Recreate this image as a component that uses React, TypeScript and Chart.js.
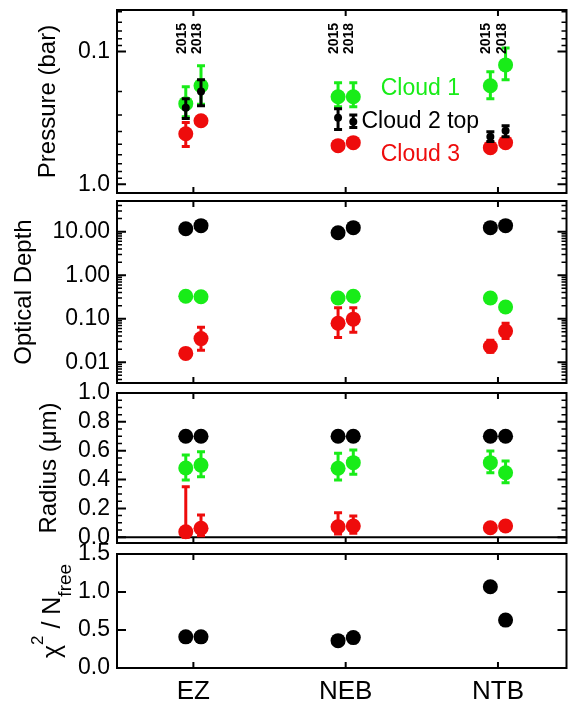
import React, { useEffect, useRef } from 'react';
import { Chart, registerables } from 'chart.js';

Chart.register(...registerables);

const FONT = "'Liberation Sans', Arial, Helvetica, sans-serif";
const W = 574;
const H = 706;

const categories = ['EZ', 'NEB', 'NTB'];
const years = ['2015', '2018'];
const yearOffsets = [-0.05, 0.05];

const cloudLabels = ['Cloud 1', 'Cloud 2 top', 'Cloud 3'];
const GREEN = 'rgb(24,236,24)';
const RED = 'rgb(238,12,12)';
const BLACK = '#000000';
const cloudColors = [GREEN, BLACK, RED];

// every series below is ordered: EZ 2015, EZ 2018, NEB 2015, NEB 2018, NTB 2015, NTB 2018
const pressureCloud1 = [0.247, 0.181, 0.219, 0.219, 0.181, 0.126];
const pressureCloud1Lo = [0.184, 0.128, 0.172, 0.172, 0.142, 0.094];
const pressureCloud1Hi = [0.31, 0.25, 0.26, 0.26, 0.227, 0.163];
const pressureCloud2 = [0.265, 0.2, 0.315, 0.338, 0.438, 0.395];
const pressureCloud2Lo = [0.227, 0.163, 0.27, 0.3, 0.402, 0.362];
const pressureCloud2Hi = [0.32, 0.256, 0.387, 0.374, 0.477, 0.438];
const pressureCloud3 = [0.416, 0.332, 0.512, 0.486, 0.53, 0.486];
const pressureCloud3Lo = [0.343, null, null, null, null, null];
const pressureCloud3Hi = [0.52, null, null, null, null, null];

const tauCloud1 = [0.33, 0.32, 0.3, 0.33, 0.3, 0.186];
const tauCloud2 = [11.7, 13.8, 9.5, 12.4, 12.4, 13.8];
const tauCloud3 = [0.016, 0.035, 0.079, 0.098, 0.023, 0.052];
const tauCloud3Lo = [null, 0.019, 0.037, 0.049, 0.017, 0.035];
const tauCloud3Hi = [null, 0.064, 0.18, 0.18, 0.032, 0.079];

const radiusCloud1 = [0.48, 0.5, 0.478, 0.517, 0.517, 0.447];
const radiusCloud1Lo = [0.397, 0.42, 0.397, 0.436, 0.447, 0.378];
const radiusCloud1Hi = [0.57, 0.593, 0.582, 0.605, 0.598, 0.528];
const radiusCloud2 = [0.7, 0.7, 0.7, 0.7, 0.7, 0.7];
const radiusCloud3 = [0.038, 0.062, 0.073, 0.078, 0.066, 0.078];
const radiusCloud3Lo = [0.0, 0.01, 0.022, 0.027, null, null];
const radiusCloud3Hi = [0.35, 0.154, 0.17, 0.147, null, null];

const chiSquare = [0.41, 0.41, 0.36, 0.4, 1.07, 0.63];

const pressureTicks = [0.1, 1.0];
const pressureTickLabels = ['0.1', '1.0'];
const pressureMinorTicks = [0.05, 0.06, 0.07, 0.08, 0.09, 0.2, 0.3, 0.4, 0.5, 0.6, 0.7, 0.8, 0.9];

const tauTicks = [0.01, 0.1, 1, 10];
const tauTickLabels = ['0.01', '0.10', '1.00', '10.00'];
const tauMinorTicks = [
  0.004, 0.005, 0.006, 0.007, 0.008, 0.009,
  0.02, 0.03, 0.04, 0.05, 0.06, 0.07, 0.08, 0.09,
  0.2, 0.3, 0.4, 0.5, 0.6, 0.7, 0.8, 0.9,
  2, 3, 4, 5, 6, 7, 8, 9, 20, 30, 40, 50,
];

const radiusTicks = [0, 0.2, 0.4, 0.6, 0.8, 1.0];
const radiusTickLabels = ['0.0', '0.2', '0.4', '0.6', '0.8', '1.0'];
const radiusMinorTicks = [0.05, 0.1, 0.15, 0.25, 0.3, 0.35, 0.45, 0.5, 0.55, 0.65, 0.7, 0.75, 0.85, 0.9, 0.95];

const chiTicks = [0, 0.5, 1.0, 1.5];
const chiTickLabels = ['0.0', '0.5', '1.0', '1.5'];
const chiMinorTicks: number[] = [];

const legendX = 1.49;

function series(values: number[], color: string, radius: number, lo?: (number | null)[], hi?: (number | null)[]) {
  return {
    data: values.map((v, i) => ({ x: Math.floor(i / 2) + yearOffsets[i % 2], y: v })),
    backgroundColor: color,
    borderColor: color,
    pointRadius: radius,
    pointHoverRadius: radius,
    pointBorderWidth: 0,
    borderWidth: 0,
    showLine: false,
    errLo: lo,
    errHi: hi,
  };
}

const errorBarPlugin = {
  id: 'errorBars',
  beforeDatasetDraw(chart: any, args: any) {
    const ds = chart.data.datasets[args.index];
    if (!ds.errLo || !ds.errHi) return;
    const xs = chart.scales.x;
    const ys = chart.scales.y;
    const ctx = chart.ctx;
    const cap = 4;
    ctx.save();
    ctx.strokeStyle = ds.backgroundColor;
    ctx.lineWidth = 3;
    ctx.lineCap = 'butt';
    ds.data.forEach((p: any, i: number) => {
      const lo = ds.errLo[i];
      const hi = ds.errHi[i];
      if (lo == null || hi == null) return;
      const x = xs.getPixelForValue(p.x);
      const y1 = ys.getPixelForValue(lo);
      const y2 = ys.getPixelForValue(hi);
      ctx.beginPath();
      ctx.moveTo(x, y1);
      ctx.lineTo(x, y2);
      ctx.moveTo(x - cap, y1);
      ctx.lineTo(x + cap, y1);
      ctx.moveTo(x - cap, y2);
      ctx.lineTo(x + cap, y2);
      ctx.stroke();
    });
    ctx.restore();
  },
};

interface PanelSpec {
  top: number;
  bottom: number;
  yType: 'linear' | 'logarithmic';
  yMin: number;
  yMax: number;
  reverse?: boolean;
  ticks: number[];
  tickLabels: string[];
  minor: number[];
  title?: string;
  titleOffset?: number;
  datasets: any[];
  showCategories?: boolean;
  zeroLine?: boolean;
  extra?: any;
}

function framePlugin(spec: PanelSpec) {
  return {
    id: 'frame',
    beforeDatasetsDraw(chart: any) {
      if (!spec.zeroLine) return;
      const { ctx, chartArea: a } = chart;
      const y = chart.scales.y.getPixelForValue(0);
      ctx.save();
      ctx.strokeStyle = '#000';
      ctx.lineWidth = 2;
      ctx.beginPath();
      ctx.moveTo(a.left, y);
      ctx.lineTo(a.right, y);
      ctx.stroke();
      ctx.restore();
    },
    afterDraw(chart: any) {
      const { ctx, chartArea: a } = chart;
      const xs = chart.scales.x;
      const ys = chart.scales.y;
      const lo = Math.min(ys.min, ys.max);
      const hi = Math.max(ys.min, ys.max);
      ctx.save();
      ctx.strokeStyle = '#000';
      ctx.lineCap = 'butt';
      ctx.lineWidth = 2;
      ctx.beginPath();
      spec.ticks.forEach((v) => {
        const y = ys.getPixelForValue(v);
        ctx.moveTo(a.left, y);
        ctx.lineTo(a.left + 9, y);
        ctx.moveTo(a.right, y);
        ctx.lineTo(a.right - 9, y);
      });
      categories.forEach((_, i) => {
        const x = xs.getPixelForValue(i);
        ctx.moveTo(x, a.top);
        ctx.lineTo(x, a.top + 6);
        ctx.moveTo(x, a.bottom);
        ctx.lineTo(x, a.bottom - 6);
      });
      ctx.stroke();
      ctx.lineWidth = 1.5;
      ctx.beginPath();
      spec.minor.forEach((v) => {
        if (v < lo || v > hi) return;
        const y = ys.getPixelForValue(v);
        ctx.moveTo(a.left, y);
        ctx.lineTo(a.left + 5, y);
        ctx.moveTo(a.right, y);
        ctx.lineTo(a.right - 5, y);
      });
      ctx.stroke();
      ctx.lineWidth = 2;
      ctx.strokeRect(a.left, a.top, a.right - a.left, a.bottom - a.top);
      ctx.restore();
    },
  };
}

const pressureText = {
  id: 'pressureText',
  afterDraw(chart: any) {
    const { ctx, chartArea: a } = chart;
    const xs = chart.scales.x;
    ctx.save();
    ctx.fillStyle = '#000';
    ctx.font = `bold 14px ${FONT}`;
    ctx.textAlign = 'left';
    ctx.textBaseline = 'alphabetic';
    categories.forEach((_, c) => {
      years.forEach((yr, j) => {
        const x = xs.getPixelForValue(c + yearOffsets[j]);
        ctx.save();
        ctx.translate(x, a.top + 44);
        ctx.rotate(-Math.PI / 2);
        ctx.fillText(yr, 0, 0);
        ctx.restore();
      });
    });
    ctx.font = `23px ${FONT}`;
    ctx.textAlign = 'center';
    const cx = xs.getPixelForValue(legendX);
    const baselines = [85, 118, 151];
    cloudLabels.forEach((t, k) => {
      ctx.fillStyle = cloudColors[k];
      ctx.fillText(t, cx, a.top + baselines[k]);
    });
    ctx.restore();
  },
};

const chiTitle = {
  id: 'chiTitle',
  afterDraw(chart: any) {
    const { ctx, chartArea: a } = chart;
    const parts: { t: string; size: number; dy: number; w?: number }[] = [
      { t: 'χ', size: 25, dy: 0 },
      { t: '2', size: 17, dy: -17 },
      { t: ' / N', size: 25, dy: 0 },
      { t: 'free', size: 19, dy: 11 },
    ];
    ctx.save();
    let total = 0;
    parts.forEach((p) => {
      ctx.font = `${p.size}px ${FONT}`;
      p.w = ctx.measureText(p.t).width;
      total += p.w;
    });
    ctx.translate(60, (a.top + a.bottom) / 2);
    ctx.rotate(-Math.PI / 2);
    ctx.fillStyle = '#000';
    ctx.textBaseline = 'alphabetic';
    ctx.textAlign = 'left';
    let x = -total / 2;
    parts.forEach((p) => {
      ctx.font = `${p.size}px ${FONT}`;
      ctx.fillText(p.t, x, p.dy);
      x += p.w || 0;
    });
    ctx.restore();
  },
};

const panels: PanelSpec[] = [
  {
    top: 10,
    bottom: 193,
    yType: 'logarithmic',
    yMin: 0.0486,
    yMax: 1.164,
    reverse: true,
    ticks: pressureTicks,
    tickLabels: pressureTickLabels,
    minor: pressureMinorTicks,
    title: 'Pressure (bar)',
    titleOffset: 34,
    datasets: [
      series(pressureCloud2, BLACK, 4, pressureCloud2Lo, pressureCloud2Hi),
      series(pressureCloud3, RED, 7.5, pressureCloud3Lo, pressureCloud3Hi),
      series(pressureCloud1, GREEN, 7.5, pressureCloud1Lo, pressureCloud1Hi),
    ],
    extra: pressureText,
  },
  {
    top: 201,
    bottom: 383,
    yType: 'logarithmic',
    yMin: 0.00334,
    yMax: 50.8,
    ticks: tauTicks,
    tickLabels: tauTickLabels,
    minor: tauMinorTicks,
    title: 'Optical Depth',
    titleOffset: 10,
    datasets: [
      series(tauCloud2, BLACK, 7.5),
      series(tauCloud3, RED, 7.5, tauCloud3Lo, tauCloud3Hi),
      series(tauCloud1, GREEN, 7.5),
    ],
  },
  {
    top: 393,
    bottom: 543,
    yType: 'linear',
    yMin: -0.04,
    yMax: 1.0,
    ticks: radiusTicks,
    tickLabels: radiusTickLabels,
    minor: radiusMinorTicks,
    title: 'Radius (μm)',
    titleOffset: 35,
    zeroLine: true,
    datasets: [
      series(radiusCloud2, BLACK, 7.5),
      series(radiusCloud3, RED, 7.5, radiusCloud3Lo, radiusCloud3Hi),
      series(radiusCloud1, GREEN, 7.5, radiusCloud1Lo, radiusCloud1Hi),
    ],
  },
  {
    top: 554,
    bottom: 668,
    yType: 'linear',
    yMin: 0,
    yMax: 1.5,
    ticks: chiTicks,
    tickLabels: chiTickLabels,
    minor: chiMinorTicks,
    datasets: [series(chiSquare, BLACK, 7.5)],
    showCategories: true,
    extra: chiTitle,
  },
];

const X_AXIS_H = 38;

function Panel({ spec }: { spec: PanelSpec }) {
  const ref = useRef<HTMLCanvasElement>(null);
  useEffect(() => {
    const canvas = ref.current;
    if (!canvas) return;
    const plugins: any[] = [errorBarPlugin, framePlugin(spec)];
    if (spec.extra) plugins.push(spec.extra);
    const chart = new Chart(canvas, {
      type: 'scatter',
      data: { datasets: spec.datasets },
      options: {
        animation: false,
        responsive: false,
        devicePixelRatio: 1,
        events: [],
        layout: {
          padding: {
            top: spec.top,
            bottom: spec.showCategories ? H - spec.bottom - X_AXIS_H : H - spec.bottom,
            left: 0,
            right: W - 570,
          },
        },
        plugins: {
          legend: { display: false },
          tooltip: { enabled: false },
          title: { display: false },
        },
        scales: {
          x: {
            type: 'linear',
            min: -0.5016,
            max: 2.45,
            display: !!spec.showCategories,
            grid: { display: false, drawTicks: false },
            border: { display: false },
            afterBuildTicks: (s: any) => {
              s.ticks = categories.map((_, i) => ({ value: i }));
            },
            afterFit: (s: any) => {
              s.height = spec.showCategories ? X_AXIS_H : 0;
              s.paddingLeft = 0;
              s.paddingRight = 0;
            },
            ticks: {
              autoSkip: false,
              maxRotation: 0,
              minRotation: 0,
              padding: 8,
              color: '#000',
              font: { family: FONT, size: 26 },
              callback: (_v: any, i: number) => categories[i] ?? '',
            },
          },
          y: {
            type: spec.yType,
            min: spec.yMin,
            max: spec.yMax,
            reverse: !!spec.reverse,
            grid: { display: false, drawTicks: false },
            border: { display: false },
            afterBuildTicks: (s: any) => {
              s.ticks = spec.ticks.map((v) => ({ value: v }));
            },
            afterFit: (s: any) => {
              s.width = 117;
              s.paddingTop = 0;
              s.paddingBottom = 0;
            },
            ticks: {
              autoSkip: false,
              padding: 7,
              color: '#000',
              font: { family: FONT, size: 23 },
              callback: (_v: any, i: number) => spec.tickLabels[i] ?? '',
            },
            title: {
              display: !!spec.title,
              text: spec.title || '',
              color: '#000',
              font: { family: FONT, size: 24 },
              padding: { top: spec.titleOffset || 0, bottom: 0 },
            },
          },
        },
      } as any,
      plugins,
    });
    return () => chart.destroy();
  }, [spec]);
  return (
    <canvas
      ref={ref}
      width={W}
      height={H}
      style={{ position: 'absolute', left: 0, top: 0, width: W, height: H }}
    />
  );
}

export default function App() {
  return (
    <div style={{ position: 'absolute', left: 0, top: 0, width: W, height: H, background: '#fff', overflow: 'hidden' }}>
      {panels.map((p, i) => (
        <Panel key={i} spec={p} />
      ))}
    </div>
  );
}
